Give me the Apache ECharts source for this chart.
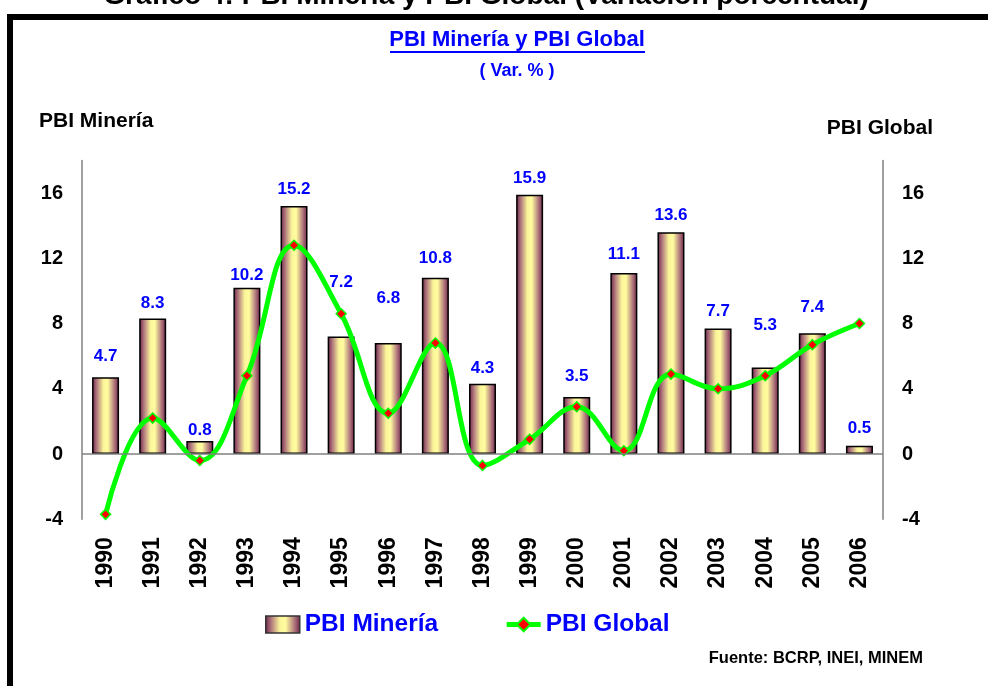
<!DOCTYPE html>
<html>
<head>
<meta charset="utf-8">
<script src="https://cdn.jsdelivr.net/npm/echarts@6/dist/echarts.min.js"></script>
<style>
html,body{margin:0;padding:0;background:#fff;}
#chart{width:988px;height:686px;}
</style>
</head>
<body>
<div id="chart"></div>
<script>
const years = ['1990','1991','1992','1993','1994','1995','1996','1997','1998','1999','2000','2001','2002','2003','2004','2005','2006'];
const pbiMineria = [4.7, 8.3, 0.8, 10.2, 15.2, 7.2, 6.8, 10.8, 4.3, 15.9, 3.5, 11.1, 13.6, 7.7, 5.3, 7.4, 0.5];
const pbiGlobal = [-3.7, 2.2, -0.4, 4.8, 12.8, 8.6, 2.5, 6.8, -0.7, 0.9, 2.9, 0.2, 4.9, 4.0, 4.8, 6.7, 8.0];
const yMin = -4, yMax = 18, yStep = 4;

// label gap above each bar (px), as placed in the original chart
const labelGap = [13, 7, 2, 4, 8, 46, 36, 11, 7, 8, 12, 10, 8, 9, 34, 17, 9];

const FONT = '"Liberation Sans", Arial, sans-serif';
const chart = echarts.init(document.getElementById('chart'), null, {renderer: 'canvas'});

const barGradient = new echarts.graphic.LinearGradient(0, 0, 1, 0, [
  {offset: 0, color: '#6a2048'},
  {offset: 0.18, color: '#b27a7e'},
  {offset: 0.42, color: '#fbf59a'},
  {offset: 0.58, color: '#fffc9e'},
  {offset: 0.82, color: '#b27a7e'},
  {offset: 1, color: '#6a2048'}
]);

const yAxisCommon = {
  type: 'value', min: yMin, max: yMax, interval: yStep,
  splitLine: {show: false},
  axisTick: {show: false},
  axisLine: {show: true, lineStyle: {color: '#808080', width: 1.5}},
  axisLabel: {showMaxLabel: false, color: '#000', fontSize: 20, fontWeight: 'bold', fontFamily: FONT, margin: 19}
};

const barData = pbiMineria.map((v, i) => ({value: v, label: {distance: labelGap[i]}}));

chart.setOption({
  animation: false,
  backgroundColor: '#fff',
  grid: {left: 82, right: 105, top: 160.4, bottom: 166.75, containLabel: false},
  xAxis: {
    type: 'category', data: years,
    axisLine: {show: false}, axisTick: {show: false},
    axisLabel: {rotate: 90, color: '#000', fontSize: 23, fontWeight: 'bold', fontFamily: FONT, margin: 18, interval: 0}
  },
  yAxis: [Object.assign({}, yAxisCommon, {position: 'left'}), Object.assign({}, yAxisCommon, {position: 'right'})],
  legend: {
    left: 265, top: 612, padding: 0, itemWidth: 34, itemHeight: 17, itemGap: 66,
    textStyle: {color: '#0000ff', fontSize: 24.5, fontWeight: 'bold', fontFamily: FONT},
    data: [
      {name: 'PBI Minería', icon: 'rect', itemStyle: {borderColor: '#333', borderWidth: 1.5}},
      {name: 'PBI Global', lineStyle: {width: 5, color: '#00ff00'}}
    ]
  },
  series: [
    {
      name: 'PBI Minería', type: 'bar', data: barData, barWidth: 27, yAxisIndex: 0,
      itemStyle: {color: barGradient, borderColor: '#000', borderWidth: 1.5},
      label: {show: true, position: 'top', color: '#0000ff', fontSize: 17, fontWeight: 'bold', fontFamily: FONT},
      markLine: {silent: true, symbol: 'none', label: {show: false}, lineStyle: {color: '#808080', width: 1.5, type: 'solid'}, data: [{yAxis: 0}]},
      z: 2
    },
    {
      name: 'PBI Global', type: 'line', data: pbiGlobal, yAxisIndex: 1, smooth: 0.4,
      symbol: 'diamond', symbolSize: 10,
      itemStyle: {color: '#ff0000', borderColor: '#00ff00', borderWidth: 1.5},
      lineStyle: {color: '#00ff00', width: 5},
      z: 3
    }
  ],
  graphic: [
    {type: 'rect', shape: {x: 7, y: 14, width: 981, height: 6}, style: {fill: '#000'}, silent: true},
    {type: 'rect', shape: {x: 7, y: 14, width: 6, height: 672}, style: {fill: '#000'}, silent: true},
    {type: 'text', x: 486, y: -4, style: {text: 'Gráfico 4: PBI Minería y PBI Global (Variación porcentual)', align: 'center', verticalAlign: 'middle', fill: '#000', font: 'bold 28px ' + FONT}},
    {type: 'text', x: 517, y: 40, style: {text: 'PBI Minería y PBI Global', align: 'center', verticalAlign: 'middle', fill: '#0000ff', font: 'bold 22px ' + FONT}},
    {type: 'rect', shape: {x: 390, y: 51, width: 255, height: 2}, style: {fill: '#0000ff'}, silent: true},
    {type: 'text', x: 517, y: 71, style: {text: '( Var. % )', align: 'center', verticalAlign: 'middle', fill: '#0000ff', font: 'bold 18px ' + FONT}},
    {type: 'text', x: 39, y: 121, style: {text: 'PBI Minería', align: 'left', verticalAlign: 'middle', fill: '#000', font: 'bold 21px ' + FONT}},
    {type: 'text', x: 933, y: 128, style: {text: 'PBI Global', align: 'right', verticalAlign: 'middle', fill: '#000', font: 'bold 21px ' + FONT}},
    {type: 'text', x: 923, y: 658, style: {text: 'Fuente: BCRP, INEI, MINEM', align: 'right', verticalAlign: 'middle', fill: '#000', font: 'bold 16.5px ' + FONT}}
  ]
});
</script>
</body>
</html>
